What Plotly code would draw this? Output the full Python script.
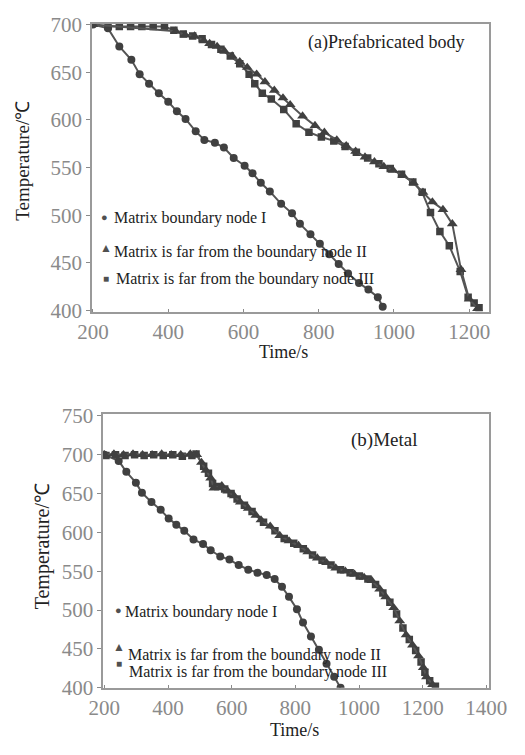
import plotly.graph_objects as go

# ---------------- data: (a) Prefabricated body ----------------
a_time_1 = [200, 240, 270, 302, 324, 349, 375, 400, 423, 446, 473, 496, 524, 548, 574, 603, 624, 646, 670, 700,
            729, 750, 778, 803, 828, 853, 878, 907, 932, 957, 970]
a_temp_1 = [700, 696, 677, 663, 648, 638, 628, 619, 609, 601, 588, 579, 576, 571, 560, 552, 544, 534, 525, 512,
            502, 491, 480, 470, 459, 449, 439, 429, 422, 414, 404]

a_time_2 = [200, 420, 445, 470, 495, 510, 530, 550, 570, 590, 610, 635, 657, 682, 705, 724, 757, 790, 815, 848,
            873, 898, 923, 948, 973, 998, 1023, 1052, 1077, 1102, 1130, 1155, 1178, 1200, 1222]
a_temp_2 = [700, 693, 689, 688, 683, 680, 677, 672, 667, 661, 655, 648, 640, 631, 623, 616, 604, 594, 587, 579,
            573, 567, 561, 556, 551, 547, 542, 534, 524, 514, 506, 491, 443, 412, 402]

a_time_3 = [240, 270, 300, 330, 360, 390, 415, 440, 465, 490, 515, 540, 565, 590, 615, 630, 650, 674, 707, 740,
            774, 807, 840, 870, 900, 930, 960, 990, 1020, 1050, 1075, 1097, 1122, 1147, 1176, 1197, 1213, 1226]
a_temp_3 = [698, 698, 698, 698, 698, 698, 694, 690, 688, 685, 679, 674, 667, 659, 648, 638, 628, 622, 611, 596,
            587, 582, 578, 572, 566, 560, 554, 549, 543, 535, 524, 503, 483, 468, 441, 414, 408, 403]

# ---------------- data: (b) Metal ----------------
b_time_1 = [200, 245, 269, 299, 318, 348, 377, 402, 426, 451, 480, 510, 534, 564, 593, 622, 652, 681, 710, 735,
            758, 780, 805, 824, 849, 874, 898, 922, 942]
b_temp_1 = [700, 692, 678, 664, 651, 639, 629, 618, 610, 602, 591, 585, 577, 569, 565, 558, 552, 548, 545, 540,
            530, 517, 501, 484, 466, 449, 431, 414, 400]

b_time_2 = [200, 230, 260, 290, 320, 350, 380, 410, 440, 470, 490, 505, 519, 534, 544, 569, 588, 608, 627, 652,
            676, 692, 721, 751, 780, 810, 839, 869, 898, 927, 957, 986, 1016, 1040, 1065, 1084, 1109, 1128, 1148, 1168,
            1187, 1202, 1212, 1231]
b_temp_2 = [700, 701, 700, 701, 700, 700, 701, 700, 700, 701, 700, 690, 680, 670, 657, 660, 653, 647, 639, 631,
            622, 616, 608, 596, 589, 583, 575, 567, 561, 554, 550, 546, 542, 538, 527, 517, 503, 486, 468, 455,
            441, 426, 414, 404]

b_time_3 = [205, 235, 265, 295, 325, 355, 385, 415, 445, 475, 488, 512, 527, 540, 556, 578, 598, 617, 640, 664,
            700, 736, 765, 795, 825, 854, 884, 912, 942, 972, 1001, 1028, 1052, 1075, 1097, 1118, 1138, 1158, 1178, 1195,
            1207, 1222, 1240]
b_temp_3 = [699, 700, 699, 700, 699, 700, 699, 700, 698, 699, 701, 685, 676, 663, 659, 656, 650, 643, 635, 627,
            613, 602, 592, 586, 579, 571, 564, 558, 552, 548, 544, 540, 533, 522, 510, 495, 477, 462, 448, 433,
            420, 409, 402]

series_names = ["Matrix boundary node I",
                "Matrix is far from the boundary node II",
                "Matrix is far from the boundary node III"]
a_ticks_x = [200, 400, 600, 800, 1000, 1200]
a_ticks_y = [400, 450, 500, 550, 600, 650, 700]
b_ticks_x = [200, 400, 600, 800, 1000, 1200, 1400]
b_ticks_y = [400, 450, 500, 550, 600, 650, 700, 750]

# ---------------- figure ----------------
W, H = 525, 755
SERIF = "Liberation Serif, Times New Roman, serif"
LINE_C = "#555555"
MARK_C = "#404040"
symbols = ["circle", "triangle-up", "square"]
msizes = [8, 9.5, 7.5]

fig = go.Figure()

def add_series(xs, ys, idx, xa, ya):
    fig.add_trace(go.Scatter(
        x=xs, y=ys, mode="lines+markers", name=series_names[idx],
        xaxis=xa, yaxis=ya, showlegend=False,
        line=dict(color=LINE_C, width=2),
        marker=dict(symbol=symbols[idx], size=msizes[idx], color=MARK_C,
                    line=dict(width=0)),
    ))

add_series(a_time_1, a_temp_1, 0, "x", "y")
add_series(a_time_3, a_temp_3, 2, "x", "y")
add_series(a_time_2, a_temp_2, 1, "x", "y")
add_series(b_time_1, b_temp_1, 0, "x2", "y2")
add_series(b_time_3, b_temp_3, 2, "x2", "y2")
add_series(b_time_2, b_temp_2, 1, "x2", "y2")

def px_x(px):
    return px / W

def px_y(py):
    return 1 - py / H

axis_common = dict(showgrid=False, zeroline=False, showline=True, mirror=True,
                   linecolor="#9a9a9a", linewidth=1.5,
                   tickfont=dict(family=SERIF, size=21, color="#8a8a8a"),
                   tickcolor="#8a8a8a")

fig.update_layout(
    width=W, height=H, autosize=False,
    margin=dict(l=0, r=0, t=0, b=0),
    paper_bgcolor="white", plot_bgcolor="white",
    xaxis=dict(domain=[px_x(82), px_x(506)], range=[197, 1253], tickvals=a_ticks_x,
               ticks="inside", ticklen=3, anchor="y", **axis_common),
    yaxis=dict(domain=[px_y(310), px_y(13)], range=[399, 701], tickvals=a_ticks_y,
               ticks="outside", ticklen=4, anchor="x", **axis_common),
    xaxis2=dict(domain=[px_x(94), px_x(506)], range=[196, 1409], tickvals=b_ticks_x,
                ticks="inside", ticklen=3, anchor="y2", **axis_common),
    yaxis2=dict(domain=[px_y(698), px_y(416)], range=[400, 752], tickvals=b_ticks_y,
                ticks="outside", ticklen=4, anchor="x2", **axis_common),
)

ann = []

def text_at(x, y, s, size, color="#222", xanchor="center", angle=0):
    ann.append(dict(x=px_x(x), y=px_y(y), xref="paper", yref="paper", text=s, showarrow=False,
                    xanchor=xanchor, yanchor="middle", textangle=angle,
                    font=dict(family=SERIF, size=size, color=color)))

# panel titles
text_at(311, 32, "(a)Prefabricated body", 18, xanchor="left")
text_at(356, 442, "(b)Metal", 19, xanchor="left")

# axis titles
text_at(287, 352, "Time/s", 18)
text_at(298, 742, "Time/s", 18)
text_at(8, 154, "Temperature/℃", 19, angle=-90)
text_at(29, 552, "Temperature/℃", 20, angle=-90)

# legends
leg_marks = ["●", "▲", "■"]
leg_sizes = [11, 12, 10]
a_leg = [((95, 212), (103, 213)), ((97, 244), (103, 249)), ((97, 276), (106, 276))]
b_leg = [((110, 618), (115, 620)), ((111, 656), (118, 664)), ((111, 673), (120, 682))]
for legs in (a_leg, b_leg):
    for i, ((mx, my), (tx, ty)) in enumerate(legs):
        text_at(mx, my, leg_marks[i], leg_sizes[i], color="#505050")
        text_at(tx, ty, series_names[i], 16, color="#222", xanchor="left")

fig.update_layout(annotations=ann)

fig.write_html("out.html")
